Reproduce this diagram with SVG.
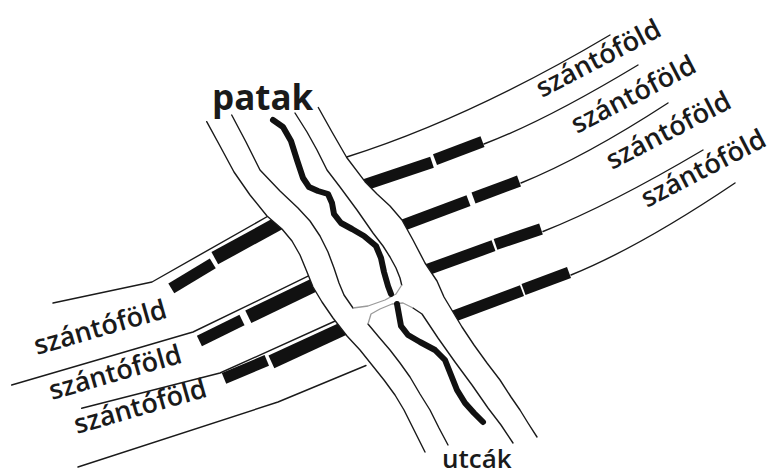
<svg xmlns="http://www.w3.org/2000/svg" width="771" height="475" viewBox="0 0 771 475">
<style>
.ln{fill:none;stroke:#1a1a1a;stroke-width:1.4;stroke-linejoin:round;stroke-linecap:round}
.bar{stroke:#111;stroke-linecap:butt;fill:none}
.bl{stroke-width:14}
.bs{stroke-width:11.5}
.gr{fill:none;stroke:#9a9a9a;stroke-width:1.3;stroke-linejoin:round}
.st{fill:none;stroke:#111;stroke-width:6;stroke-linecap:round;stroke-linejoin:round}
.lab{font-family:"Open Sans","DejaVu Sans",sans-serif;font-size:27px;font-weight:600;fill:#1a1a1a}
</style>
<rect width="771" height="475" fill="#fff"/>
<g id="fields-left">
<polyline class="ln" points="53,303 152,282 270,215 292,203"/>
<polyline class="ln" points="11.7,385 193,332 307,276.7 330,265.5"/>
<polyline class="ln" points="81.7,408.3 220,373 333,322 355,312"/>
<polyline class="ln" points="78,467 278,402 366,365.5"/>
<line class="bar bl" x1="214.8" y1="258.2" x2="300" y2="211.5"/>
<line class="bar bs" x1="171.3" y1="288.4" x2="212.8" y2="263.4"/>
<line class="bar bl" x1="248.3" y1="316.8" x2="335" y2="275"/>
<line class="bar bs" x1="199.4" y1="341" x2="242" y2="320"/>
<line class="bar bl" x1="271.4" y1="361.8" x2="360" y2="321"/>
<line class="bar bs" x1="224" y1="378.4" x2="266.8" y2="360.4"/>
</g>
<g id="fields-right">
<path class="ln" d="M346.7,157 Q470,118 610,35"/>
<path class="ln" d="M484,144 Q545,121 638,65"/>
<path class="ln" d="M521,183 Q585,157 668,103"/>
<path class="ln" d="M543,231.5 Q610,205 703,150"/>
<path class="ln" d="M571,275 Q640,247 735,183"/>
<line class="bar bs" x1="350" y1="189.7" x2="432" y2="162.2"/>
<line class="bar bs" x1="435" y1="159.6" x2="482.5" y2="141.7"/>
<line class="bar bs" x1="385" y1="231.8" x2="468.5" y2="200.6"/>
<line class="bar bs" x1="473.5" y1="198" x2="519" y2="181"/>
<line class="bar bs" x1="410" y1="275.9" x2="493.5" y2="245.7"/>
<line class="bar bs" x1="495.5" y1="244.4" x2="541" y2="229"/>
<line class="bar bs" x1="435" y1="323.1" x2="522" y2="290.6"/>
<line class="bar bs" x1="523.5" y1="289.5" x2="569" y2="272.5"/>
</g>
<path id="corridor" fill="#fff" d="M206.7,121.7 L220,146 234,172 250,195 267,216 282,229 292,241 300,255 307,272 313,287 322,302 333,318 347,336 360,350 372,365 384,380 395,395 404,410 414,430 425,452 L537,437 528,423 520,410 511,397 500,380 487,363 474,345 462,327 453,312 444,297 437,281 425,263 413,240 402,220 390,206 377,194 365,181.7 346.7,157.5 332,132 318.3,107.5 Z"/>
<g id="streets">
<polyline class="ln" points="206.7,121.7 220,146 234,172 250,195 267,216 282,229 292,241 300,255 307,272 313,287 322,302 333,318 347,336 360,350 372,365 384,380 395,395 404,410 414,430 425,452"/>
<polyline class="ln" points="318.3,107.5 332,132 346.7,157.5 365,181.7 377,194 390,206 402,220 413,240 425,263 437,281 444,297 453,312 462,327 474,345 487,363 500,380 511,397 520,410 528,423 537,437"/>
<polyline class="ln" points="231.7,115 246,142 260,170 280,191 298,208 310,221 320,236 328,252 334,268 339,283 344,295 353,308"/>
<polyline class="ln" points="295,113 307,132 317,150 327,170 340,187 357,210 373,233 383,246 390,257 396,268 400,278 401.7,285"/>
<polyline class="ln" points="368,324 378,336 390,350 400,363 410,377 420,394 430,410 439,428 448,445"/>
<polyline class="ln" points="413,308 422,314 438,338 455,362 472,385 488,408 501,425 513,443"/>
<polyline class="gr" points="353,308 368,306 385,300 396,294 401.7,285"/>
<polyline class="gr" points="368,324 371,314 380,309 392,304 403,303 413,308"/>
</g>
<g id="stream">
<polyline class="st" points="273,120 283,127 291,141 297,160 303,178 309,187 318,191 328,194 332,203 334,214 341,223 352,229 364,236 376,246 381,258 384,272 388,286 391,294"/>
<polyline class="st" points="397,304 399,315 401,326 408,335 420,342 435,350 445,360 451,375 457,390 465,403 474,413 483,422"/>
</g>
<g id="labels">
<text class="lab" x="212" y="110" style="font-size:35px;font-weight:700">patak</text>
<text class="lab" x="442" y="468" style="font-size:26px">utcák</text>
<text class="lab" x="37" y="355" transform="rotate(-16 37 355)">szántóföld</text>
<text class="lab" x="52" y="400" transform="rotate(-16 52 400)">szántóföld</text>
<text class="lab" x="77" y="434" transform="rotate(-16 77 434)">szántóföld</text>
<text class="lab" x="542" y="98" transform="rotate(-27.5 542 98)">szántóföld</text>
<text class="lab" x="577" y="134" transform="rotate(-27.5 577 134)">szántóföld</text>
<text class="lab" x="612" y="170" transform="rotate(-27.5 612 170)">szántóföld</text>
<text class="lab" x="647" y="208" transform="rotate(-27.5 647 208)">szántóföld</text>
</g>
</svg>
